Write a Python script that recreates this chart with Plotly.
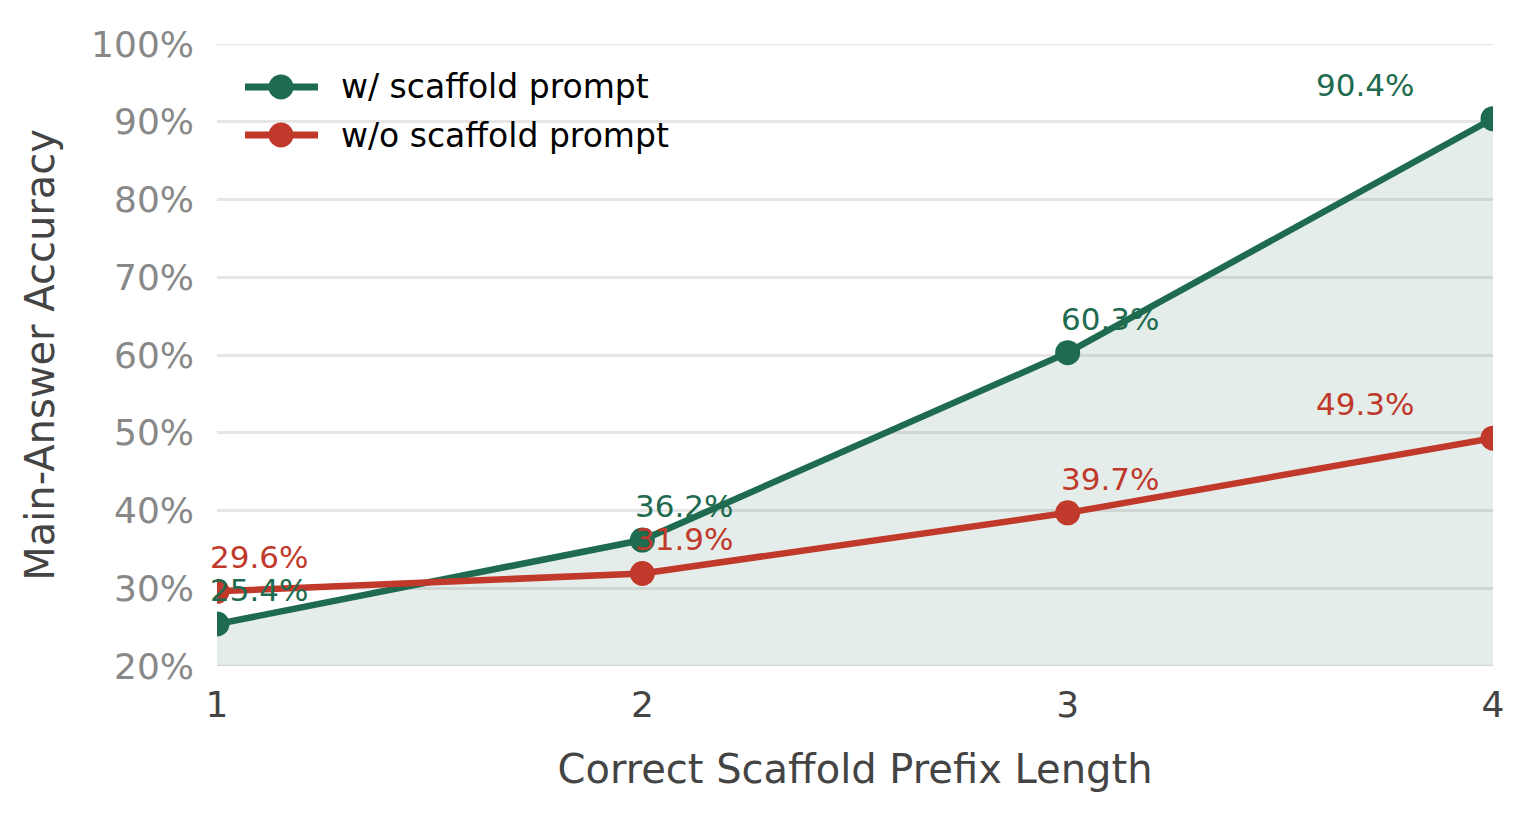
import plotly.graph_objects as go

x_vals = [1, 2, 3, 4]
with_scaffold = [25.4, 36.2, 60.3, 90.4]
without_scaffold = [29.6, 31.9, 39.7, 49.3]
series_names = ["w/ scaffold prompt", "w/o scaffold prompt"]
colors = ["#1e6b4f", "#c0392b"]
y_ticks = [20, 30, 40, 50, 60, 70, 80, 90, 100]
y_tick_text = [f"{v}%" for v in y_ticks]
x_ticks = [1, 2, 3, 4]

FONT = "DejaVu Sans"
fig = go.Figure()

fig.add_trace(go.Scatter(
    x=x_vals, y=with_scaffold, mode="lines+markers", name=series_names[0],
    line=dict(color=colors[0], width=6.5), marker=dict(size=25, color=colors[0]),
    fill="tozeroy", fillcolor="rgba(30,107,79,0.12)", showlegend=False,
))
fig.add_trace(go.Scatter(
    x=x_vals, y=without_scaffold, mode="lines+markers", name=series_names[1],
    line=dict(color=colors[1], width=6.5), marker=dict(size=25, color=colors[1]),
    showlegend=False,
))

annotations = []
for series, col in [(with_scaffold, colors[0]), (without_scaffold, colors[1])]:
    for xv, yv in zip(x_vals, series):
        xs = 42 if xv < 4 else -128
        annotations.append(dict(
            x=xv, y=yv, xref="x", yref="y", text=f"{yv}%", showarrow=False,
            xanchor="center", yanchor="middle", xshift=xs, yshift=34,
            font=dict(family=FONT, size=31, color=col),
        ))

shapes = []
# edge gridlines (plotly omits them at the range limits)
for gy in (y_ticks[0], y_ticks[-1]):
    shapes.append(dict(type="line", xref="paper", yref="y", x0=0, x1=1, y0=gy, y1=gy,
                       layer="below", line=dict(color="#e6e6e6", width=2.5)))

# manual legend (layout decoration)
leg_y = [87, 135]
H = 840
for i, (name, col) in enumerate(zip(series_names, colors)):
    cy = (H - 174 - leg_y[i]) / 622
    shapes.append(dict(type="line", xref="paper", yref="paper",
                       x0=(245 - 217) / 1276, x1=(318 - 217) / 1276,
                       y0=cy, y1=cy, line=dict(color=col, width=7)))
    cx = (281 - 217) / 1276
    rx = 12.5 / 1276
    ry = 12.5 / 622
    shapes.append(dict(type="circle", xref="paper", yref="paper",
                       x0=cx - rx, x1=cx + rx, y0=cy - ry, y1=cy + ry,
                       fillcolor=col, line=dict(width=0)))
    annotations.append(dict(x=(339 - 217) / 1276, y=cy, xref="paper", yref="paper",
                            text=name, showarrow=False, xanchor="left", yanchor="middle",
                            font=dict(family=FONT, size=33, color="#000000")))

fig.update_layout(
    width=1540, height=840,
    margin=dict(l=217, r=47, t=44, b=174),
    paper_bgcolor="white", plot_bgcolor="white",
    font=dict(family=FONT, color="#444444"),
    annotations=annotations, shapes=shapes,
    xaxis=dict(range=[1, 4], tickvals=x_ticks, showgrid=False, zeroline=False,
               showline=False, ticks="", ticklabelstandoff=14,
               tickfont=dict(size=36, color="#444444"),
               title=dict(text="Correct Scaffold Prefix Length", font=dict(size=40, color="#444444"), standoff=30)),
    yaxis=dict(range=[20, 100], tickvals=y_ticks, ticktext=y_tick_text, showgrid=True,
               gridcolor="#e6e6e6", gridwidth=2.5, zeroline=False, showline=False, ticks="",
               ticklabelstandoff=22,
               tickfont=dict(size=36, color="#888888"),
               title=dict(text="Main-Answer Accuracy", font=dict(size=40, color="#444444"), standoff=24)),
)

fig.write_html("out.html")
